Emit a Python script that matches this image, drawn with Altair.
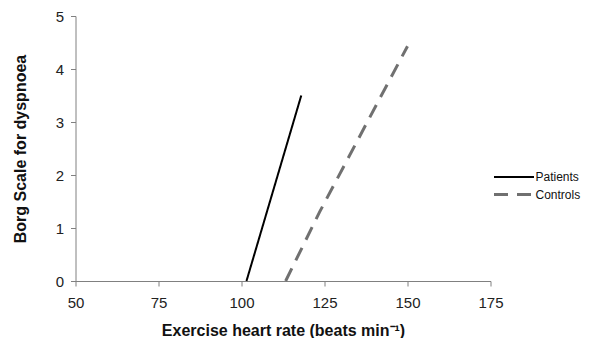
import altair as alt
import pandas as pd

patients_x = [101.5, 118.0]
patients_y = [0.0, 3.5]
controls_x = [113.3, 123.5, 150.0]
controls_y = [0.0, 1.3, 4.43]

rows = []
for x, y in zip(patients_x, patients_y):
    rows.append({"hr": x, "borg": y, "group": "Patients"})
for x, y in zip(controls_x, controls_y):
    rows.append({"hr": x, "borg": y, "group": "Controls"})
df = pd.DataFrame(rows)

font = "Liberation Sans"

chart = alt.Chart(df).mark_line(clip=False).encode(
    x=alt.X("hr:Q", scale=alt.Scale(domain=[50, 175], nice=False, zero=False),
            axis=alt.Axis(values=[50, 75, 100, 125, 150, 175], title="Exercise heart rate (beats min⁻¹)",
                          grid=False, domainColor="#808080", tickColor="#808080", tickSize=5,
                          labelFlush=False, labelOverlap=False,
                          labelFont=font, labelFontSize=15, labelColor="#222", labelPadding=9,
                          titleFont=font, titleFontSize=16, titleFontWeight="bold", titleColor="#111",
                          titlePadding=12)),
    y=alt.Y("borg:Q", scale=alt.Scale(domain=[0, 5], nice=False),
            axis=alt.Axis(values=[0, 1, 2, 3, 4, 5], title="Borg Scale for dyspnoea",
                          grid=False, domainColor="#808080", tickColor="#808080", tickSize=5,
                          labelFlush=False, labelOverlap=False,
                          labelFont=font, labelFontSize=15, labelColor="#222", labelPadding=7,
                          titleFont=font, titleFontSize=16, titleFontWeight="bold", titleColor="#111",
                          titlePadding=27)),
    color=alt.Color("group:N", scale=alt.Scale(domain=["Patients", "Controls"], range=["#000000", "#707070"]),
                    legend=alt.Legend(title=None, orient="none", legendX=427, legendY=150,
                                      symbolType="M-2,0H2", symbolSize=400, symbolStrokeWidth=2.5,
                                      labelFont=font, labelFontSize=12, labelColor="#111",
                                      labelOffset=10, rowPadding=0, symbolOffset=0, labelLimit=200)),
    strokeDash=alt.StrokeDash("group:N", scale=alt.Scale(domain=["Patients", "Controls"], range=[[1, 0], [14, 9]]),
                              legend=None),
    strokeWidth=alt.StrokeWidth("group:N", scale=alt.Scale(domain=["Patients", "Controls"], range=[2, 3]),
                                legend=None),
    order="hr:Q",
).properties(
    width=415, height=265,
    autosize=alt.AutoSizeParams(type="none"),
    padding={"left": 67.5, "top": 8, "right": 91.5, "bottom": 57},
).configure_view(stroke=None)

chart.save("out.html", embed_options={"renderer": "svg", "actions": False})
